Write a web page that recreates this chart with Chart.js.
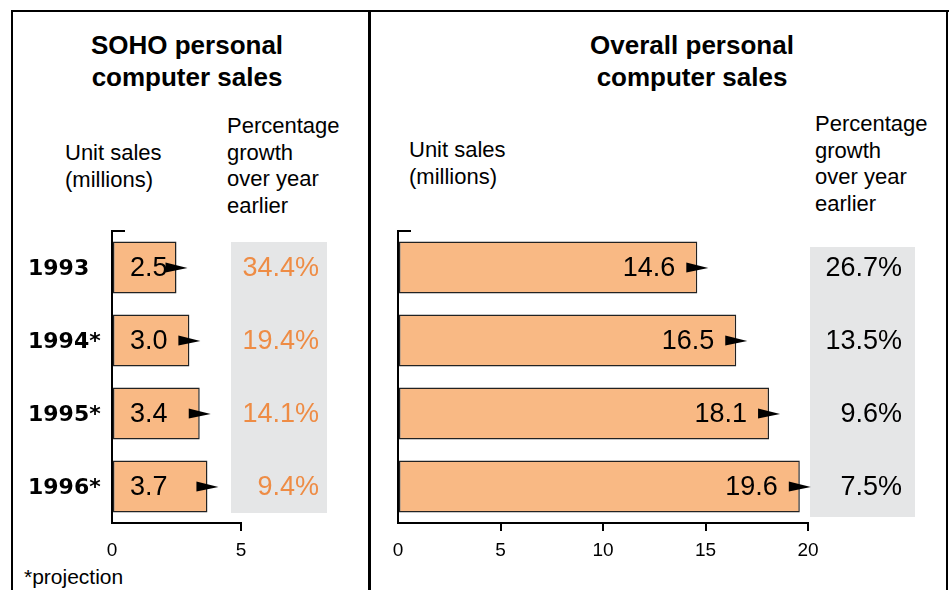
<!DOCTYPE html>
<html>
<head>
<meta charset="utf-8">
<script src="https://cdn.jsdelivr.net/npm/chart.js@4/dist/chart.umd.min.js"></script>
<style>
  body { margin: 0; background: #fff; font-family: 'Liberation Sans', Arial, sans-serif; }
  #wrap { position: relative; width: 950px; height: 590px; overflow: hidden; }
  .line { position: absolute; background: #000; }
  .txt { position: absolute; color: #000; white-space: nowrap; }
  .title { font-size: 26px; font-weight: bold; line-height: 32px; text-align: center; }
  .sub { font-size: 22px; line-height: 26.5px; }
  canvas { position: absolute; top: 0; }
</style>
</head>
<body>
<div id="wrap">
  <div class="line" style="left:11px; top:10px; width:938px; height:2px;"></div>
  <div class="line" style="left:11px; top:10px; width:2px; height:580px;"></div>
  <div class="line" style="left:946px; top:10px; width:2px; height:580px;"></div>
  <div class="line" style="left:368px; top:12px; width:3px; height:578px;"></div>

  <div class="txt title" style="left:37px; top:29px; width:300px;">SOHO personal<br>computer sales</div>
  <div class="txt title" style="left:542px; top:29px; width:300px;">Overall personal<br>computer sales</div>

  <div class="txt sub" style="left:65px; top:140px;">Unit sales<br>(millions)</div>
  <div class="txt sub" style="left:227px; top:113px;">Percentage<br>growth<br>over year<br>earlier</div>
  <div class="txt sub" style="left:409px; top:137px;">Unit sales<br>(millions)</div>
  <div class="txt sub" style="left:815px; top:111px;">Percentage<br>growth<br>over year<br>earlier</div>

  <div class="txt" style="left:24px; top:565px; font-size:21px;">*projection</div>

  <canvas id="soho" width="369" height="590" style="left:0;"></canvas>
  <canvas id="overall" width="576" height="590" style="left:370px;"></canvas>
</div>

<script>
const years = ['1993', '1994*', '1995*', '1996*'];
const sohoUnits = [2.5, 3.0, 3.4, 3.7];
const sohoGrowth = ['34.4%', '19.4%', '14.1%', '9.4%'];
const overallUnits = [14.6, 16.5, 18.1, 19.6];
const overallGrowth = ['26.7%', '13.5%', '9.6%', '7.5%'];

const barFill = '#F9B984';
const orange = '#EE8C45';
const greyBox = '#E5E6E7';

Chart.defaults.font.family = "'Liberation Sans', Arial, sans-serif";
Chart.defaults.color = '#000';

// draws grey box, growth text, value labels, arrows, year labels
function overlay(opts) {
  return {
    id: 'overlay',
    beforeDatasetsDraw(chart) {
      const ctx = chart.ctx;
      const b = opts.box;
      ctx.save();
      ctx.fillStyle = greyBox;
      ctx.fillRect(b[0], b[1], b[2] - b[0], b[3] - b[1]);
      ctx.restore();
    },
    afterDatasetsDraw(chart) {
      const ctx = chart.ctx;
      const area = chart.chartArea;
      const bars = chart.getDatasetMeta(0).data;
      ctx.save();

      // little cap on top of the y axis
      ctx.strokeStyle = '#000';
      ctx.lineWidth = 2;
      ctx.beginPath();
      ctx.moveTo(area.left, area.top);
      ctx.lineTo(area.left + 13, area.top);
      ctx.stroke();

      ctx.textBaseline = 'middle';
      bars.forEach((bar, i) => {
        const y = bar.y;
        // value in bar
        ctx.font = "27px 'Liberation Sans', Arial, sans-serif";
        ctx.fillStyle = '#000';
        const v = opts.values[i].toFixed(1);
        if (opts.valueAlign === 'left') {
          ctx.textAlign = 'left';
          ctx.fillText(v, area.left + 18, y + 1);
        } else {
          ctx.textAlign = 'right';
          ctx.fillText(v, bar.x - 22, y + 1);
        }
        // arrow
        ctx.beginPath();
        ctx.moveTo(bar.x - 11, y - 5);
        ctx.lineTo(bar.x + 11, y + 0.5);
        ctx.lineTo(bar.x - 11, y + 5);
        ctx.closePath();
        ctx.fill();
        // growth
        ctx.font = "27px 'Liberation Sans', Arial, sans-serif";
        ctx.fillStyle = opts.growthColor;
        ctx.textAlign = 'right';
        ctx.fillText(opts.growth[i], opts.growthX, y + 1);
        // year
        if (opts.showYears) {
          ctx.font = "bold 22px 'DejaVu Sans', sans-serif";
          ctx.fillStyle = '#000';
          ctx.textAlign = 'left';
          ctx.fillText(years[i], 28, y + 2);
        }
      });
      ctx.restore();
    }
  };
}

function makeChart(id, values, max, step, pad, plugin) {
  return new Chart(document.getElementById(id), {
    type: 'bar',
    data: {
      labels: years,
      datasets: [{
        data: values,
        backgroundColor: barFill,
        borderColor: '#222',
        borderWidth: 1.5,
        borderSkipped: false,
        barPercentage: 0.715,
        categoryPercentage: 1
      }]
    },
    options: {
      indexAxis: 'y',
      responsive: false,
      animation: false,
      devicePixelRatio: 1,
      layout: { padding: pad },
      plugins: { legend: { display: false }, tooltip: { enabled: false } },
      scales: {
        x: {
          type: 'linear',
          min: 0,
          max: max,
          afterFit: s => { s.height = 40; },
          ticks: { stepSize: step, font: { size: 19 }, color: '#000', padding: 8 },
          grid: {
            drawOnChartArea: false,
            drawTicks: true,
            tickLength: 8,
            lineWidth: 2,
            color: c => (c.tick && c.tick.value === 0) ? 'rgba(0,0,0,0)' : '#000'
          },
          border: { display: true, color: '#000', width: 2 }
        },
        y: {
          afterFit: s => { s.width = 0; },
          ticks: { display: false },
          grid: { display: false },
          border: { display: true, color: '#000', width: 2 }
        }
      }
    },
    plugins: [plugin]
  });
}

makeChart('soho', sohoUnits, 5, 5,
  { left: 112, right: 128, top: 231, bottom: 27 },
  overlay({
    values: sohoUnits, growth: sohoGrowth, growthColor: orange, growthX: 319,
    valueAlign: 'left', showYears: true, box: [231, 242, 327, 513]
  }));

makeChart('overall', overallUnits, 20, 5,
  { left: 28, right: 138, top: 231, bottom: 27 },
  overlay({
    values: overallUnits, growth: overallGrowth, growthColor: '#000', growthX: 532,
    valueAlign: 'right', showYears: false, box: [440, 247, 545, 517]
  }));
</script>
</body>
</html>
